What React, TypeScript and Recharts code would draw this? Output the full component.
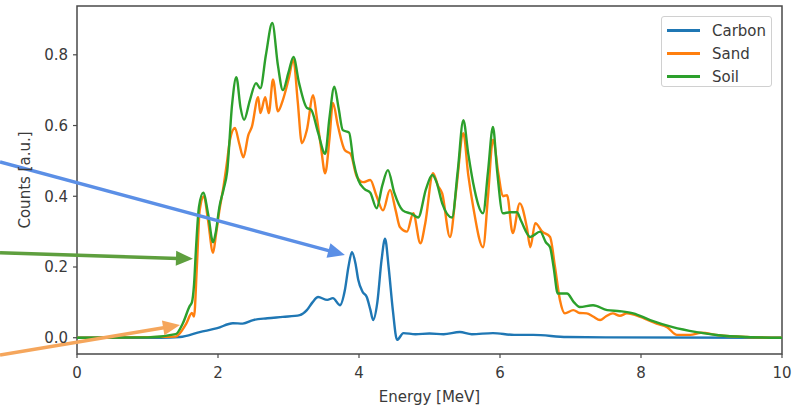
import React from 'react';
import {
  LineChart, Line, XAxis, YAxis, ReferenceLine, ReferenceArea, Legend,
} from 'recharts';

// [energy MeV, counts a.u.]
const carbonSpectrum = [
  [0, 0], [1.18, 0], [1.46, 0.002], [1.74, 0.016], [1.99, 0.027], [2.21, 0.041], [2.35, 0.04],
  [2.5, 0.05], [2.7, 0.055], [2.92, 0.059], [3.16, 0.064], [3.26, 0.078], [3.34, 0.1],
  [3.42, 0.115], [3.55, 0.107], [3.63, 0.112], [3.73, 0.092], [3.8, 0.135], [3.85, 0.2],
  [3.9, 0.242], [3.95, 0.21], [3.99, 0.163], [4.05, 0.13], [4.11, 0.115], [4.16, 0.08],
  [4.2, 0.05], [4.26, 0.1], [4.32, 0.22], [4.37, 0.28], [4.42, 0.2], [4.48, 0.078],
  [4.54, -0.006], [4.63, 0.013], [4.8, 0.01], [5.0, 0.012], [5.2, 0.01], [5.43, 0.016],
  [5.6, 0.01], [5.9, 0.013], [6.2, 0.008], [6.47, 0.008], [6.95, 0.002], [7.5, 0.001], [10, 0],
];

const sandSpectrum = [
  [0, 0], [1.4, 0.003], [1.46, 0.013], [1.55, 0.04], [1.63, 0.07], [1.66, 0.06], [1.7, 0.2],
  [1.74, 0.36], [1.8, 0.4], [1.86, 0.33], [1.93, 0.24], [1.97, 0.29], [2.02, 0.36], [2.08, 0.43],
  [2.13, 0.5], [2.17, 0.56], [2.24, 0.593], [2.3, 0.55], [2.36, 0.51], [2.43, 0.573],
  [2.48, 0.596], [2.57, 0.68], [2.6, 0.635], [2.67, 0.68], [2.72, 0.635], [2.78, 0.73],
  [2.85, 0.64], [2.92, 0.672], [3.0, 0.73], [3.07, 0.786], [3.13, 0.67], [3.19, 0.55],
  [3.26, 0.587], [3.35, 0.686], [3.4, 0.625], [3.46, 0.54], [3.52, 0.465], [3.58, 0.56],
  [3.63, 0.664], [3.7, 0.6], [3.8, 0.53], [3.88, 0.52], [3.97, 0.455], [4.06, 0.44],
  [4.16, 0.446], [4.25, 0.4], [4.34, 0.36], [4.44, 0.418], [4.52, 0.36], [4.58, 0.313],
  [4.68, 0.3], [4.77, 0.352], [4.87, 0.267], [4.94, 0.324], [5.05, 0.465], [5.12, 0.43],
  [5.18, 0.408], [5.29, 0.285], [5.38, 0.42], [5.48, 0.578], [5.55, 0.46], [5.62, 0.37],
  [5.76, 0.256], [5.83, 0.4], [5.9, 0.56], [5.98, 0.46], [6.04, 0.4], [6.1, 0.403],
  [6.18, 0.296], [6.28, 0.38], [6.38, 0.313], [6.43, 0.256], [6.5, 0.324], [6.6, 0.3],
  [6.71, 0.285], [6.78, 0.2], [6.85, 0.107], [6.92, 0.069], [7.04, 0.078], [7.13, 0.07],
  [7.23, 0.069], [7.32, 0.06], [7.42, 0.05], [7.5, 0.06], [7.6, 0.069], [7.7, 0.062],
  [7.8, 0.069], [7.99, 0.059], [8.1, 0.05], [8.22, 0.04], [8.37, 0.03], [8.51, 0.008],
  [8.7, 0.008], [8.85, 0.014], [9.1, 0.007], [9.5, 0.002], [10, 0],
];

const soilSpectrum = [
  [0, 0], [1.0, 0.001], [1.4, 0.01], [1.5, 0.04], [1.6, 0.09], [1.63, 0.1], [1.66, 0.15],
  [1.69, 0.26], [1.73, 0.37], [1.79, 0.41], [1.86, 0.35], [1.93, 0.27], [1.97, 0.3],
  [2.02, 0.37], [2.08, 0.42], [2.13, 0.47], [2.2, 0.66], [2.26, 0.737], [2.32, 0.65],
  [2.37, 0.616], [2.45, 0.67], [2.54, 0.72], [2.6, 0.705], [2.68, 0.8], [2.77, 0.89],
  [2.85, 0.77], [2.92, 0.7], [3.0, 0.75], [3.07, 0.794], [3.15, 0.72], [3.26, 0.65],
  [3.32, 0.645], [3.42, 0.58], [3.52, 0.52], [3.58, 0.62], [3.65, 0.71], [3.71, 0.65],
  [3.77, 0.587], [3.86, 0.58], [3.92, 0.5], [3.99, 0.446], [4.08, 0.42], [4.16, 0.41],
  [4.25, 0.366], [4.33, 0.43], [4.41, 0.474], [4.5, 0.41], [4.62, 0.36], [4.75, 0.35],
  [4.84, 0.34], [4.95, 0.42], [5.04, 0.46], [5.1, 0.44], [5.18, 0.38], [5.32, 0.34],
  [5.4, 0.47], [5.48, 0.615], [5.55, 0.52], [5.62, 0.437], [5.76, 0.352], [5.83, 0.47],
  [5.9, 0.596], [5.96, 0.47], [6.04, 0.352], [6.14, 0.355], [6.24, 0.355], [6.3, 0.33],
  [6.43, 0.285], [6.57, 0.3], [6.65, 0.27], [6.71, 0.256], [6.76, 0.2], [6.82, 0.125],
  [6.95, 0.125], [7.05, 0.1], [7.13, 0.087], [7.32, 0.092], [7.52, 0.078], [7.7, 0.075],
  [7.89, 0.069], [8.13, 0.05], [8.45, 0.03], [8.79, 0.016], [9.1, 0.007], [9.5, 0.002], [10, 0],
];

const seriesNames = ['Carbon', 'Sand', 'Soil'];
const seriesColors = ['#1f77b4', '#ff7f0e', '#2ca02c'];

const energyTicks = [0, 2, 4, 6, 8, 10];
const countTicks = [0, 0.2, 0.4, 0.6, 0.8];
const countDomain = [-0.046, 0.938];

// annotation arrows, [fromE, fromV, toE, toV]
const arrowSegments = [
  [-1.092, 0.497, 3.8, 0.234],
  [-1.092, 0.24, 1.645, 0.223],
  [-1.092, -0.049, 1.46, 0.036],
];
const arrowColors = ['#5b8fe6', '#5e9f3e', '#f5a65c'];

const toPoints = (rows) => rows.map(([x, y]) => ({ x, y }));
const seriesData = [carbonSpectrum, sandSpectrum, soilSpectrum].map(toPoints);

const axisColor = '#4a4a4a';
const textColor = '#3a3a3a';
const font = 'DejaVu Sans';

const Arrow = ({
  x1, y1, x2, y2, stroke,
}) => {
  const dx = x2 - x1;
  const dy = y2 - y1;
  const len = Math.hypot(dx, dy) || 1;
  const ux = dx / len;
  const uy = dy / len;
  const headLen = 17;
  const headHalf = 7.5;
  const bx = x2 - ux * headLen;
  const by = y2 - uy * headLen;
  return (
    <g>
      <line x1={x1} y1={y1} x2={bx + ux * 2} y2={by + uy * 2} stroke={stroke} strokeWidth={3.5} />
      <polygon
        points={`${x2},${y2} ${bx - uy * headHalf},${by + ux * headHalf} ${bx + uy * headHalf},${by - ux * headHalf}`}
        fill={stroke}
      />
    </g>
  );
};

const LegendBox = () => {
  return (
    <div
      style={{
        width: 111,
        height: 71,
        border: '1px solid #d0d0d0',
        borderRadius: 3,
        background: 'rgba(255,255,255,0.85)',
        fontFamily: font,
        fontSize: 15,
        color: textColor,
        boxSizing: 'border-box',
        paddingTop: 2,
      }}
    >
      {seriesNames.map((name, i) => (
        <div key={name} style={{ display: 'flex', alignItems: 'center', height: 23 }}>
          <span style={{
            display: 'inline-block', width: 33, height: 2.5, background: seriesColors[i], marginLeft: 5, marginRight: 12,
          }}
          />
          <span>{name}</span>
        </div>
      ))}
    </div>
  );
};

const YLabel = ({ viewBox }) => {
  const cx = viewBox.x + 25;
  const cy = viewBox.y + viewBox.height / 2;
  return (
    <text x={cx} y={cy} transform={`rotate(-90, ${cx}, ${cy})`} textAnchor="middle" dominantBaseline="central" fontSize={15} fill={textColor} fontFamily={font}>
      Counts [a.u.]
    </text>
  );
};

const XLabel = ({ viewBox }) => {
  const cx = viewBox.x + viewBox.width / 2;
  return (
    <text x={cx} y={397} textAnchor="middle" dominantBaseline="central" fontSize={15} fill={textColor} fontFamily={font}>
      Energy [MeV]
    </text>
  );
};

const App = () => {
  return (
    <div style={{
      position: 'absolute', left: 0, top: 0, width: 799, height: 406, background: '#fff',
    }}
    >
      <LineChart
        width={799}
        height={406}
        margin={{
          top: 6, right: 17, bottom: 0, left: 0,
        }}
        style={{ fontFamily: font }}
      >
        <XAxis
          type="number"
          dataKey="x"
          domain={[0, 10]}
          ticks={energyTicks}
          allowDataOverflow
          height={52}
          axisLine={false}
          tickLine={{ stroke: axisColor, strokeWidth: 1.2 }}
          tickSize={4}
          tickMargin={9}
          tick={{ fontSize: 15, fill: textColor, fontFamily: font }}
          label={<XLabel />}
        />
        <YAxis
          type="number"
          dataKey="y"
          domain={countDomain}
          ticks={countTicks}
          allowDataOverflow
          width={77}
          axisLine={false}
          tickLine={{ stroke: axisColor, strokeWidth: 1.2 }}
          tickSize={4}
          tickMargin={5}
          tickFormatter={(v) => v.toFixed(1)}
          tick={{ fontSize: 15, fill: textColor, fontFamily: font }}
          label={<YLabel />}
        />
        <ReferenceArea
          x1={0}
          x2={10}
          y1={countDomain[0]}
          y2={countDomain[1]}
          fill="none"
          stroke={axisColor}
          strokeWidth={1.5}
          ifOverflow="visible"
        />
        {seriesData.map((points, i) => (
          <Line
            key={seriesNames[i]}
            data={points}
            dataKey="y"
            name={seriesNames[i]}
            type="monotone"
            stroke={seriesColors[i]}
            strokeWidth={2.4}
            dot={false}
            activeDot={false}
            isAnimationActive={false}
          />
        ))}
        {arrowSegments.map(([e1, v1, e2, v2], i) => (
          <ReferenceLine
            key={`arrow-${i}`}
            segment={[{ x: e1, y: v1 }, { x: e2, y: v2 }]}
            stroke={arrowColors[i]}
            ifOverflow="visible"
            shape={(p) => <Arrow {...p} stroke={arrowColors[i]} />}
          />
        ))}
        <Legend
          layout="vertical"
          align="center"
          verticalAlign="middle"
          wrapperStyle={{ top: 16, left: 661, width: 111 }}
          content={<LegendBox />}
        />
      </LineChart>
    </div>
  );
};

export default App;
